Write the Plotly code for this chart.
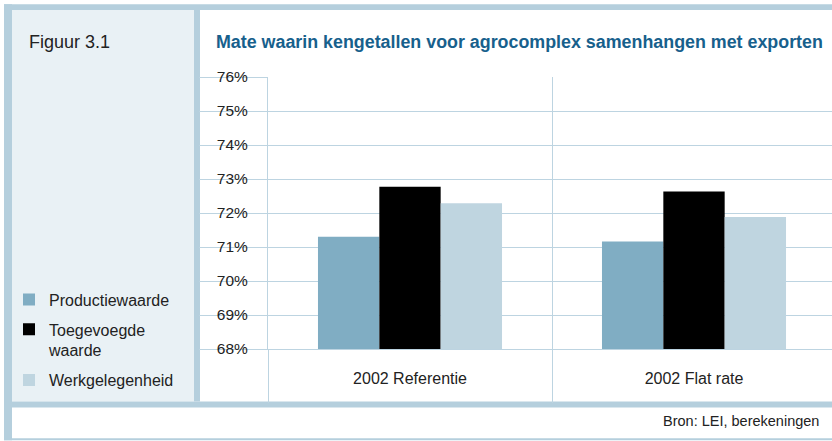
import plotly.graph_objects as go

# ---- data ----
categories = ["2002 Referentie", "2002 Flat rate"]
productiewaarde = [71.30, 71.16]
toegevoegde_waarde = [72.77, 72.63]
werkgelegenheid = [72.29, 71.88]
series_names = ["Productiewaarde", "Toegevoegde<br>waarde", "Werkgelegenheid"]
y_ticks = [68, 69, 70, 71, 72, 73, 74, 75, 76]

# ---- layout constants ----
W, H = 832, 441
L, R, T, B = 268, 0, 77, 91.5
PW, PH = W - L - R, H - T - B

BAND = "#B5CFDD"
PANEL = "#E9F1F5"
GRID = "#BDD4E1"
TEXT = "#222222"
TITLE = "#17608C"
COLORS = ["#80ADC3", "#000000", "#BFD5E0"]
FONT = "Liberation Sans, Arial, sans-serif"


def px(x):
    return (x - L) / PW


def py(y):
    return (H - B - y) / PH


fig = go.Figure()
for i, (name, vals, col) in enumerate(zip(series_names, [productiewaarde, toegevoegde_waarde, werkgelegenheid], COLORS)):
    fig.add_trace(go.Bar(x=categories, y=vals, name=name, legendgroup=f"g{i}",
                         marker=dict(color=col, line=dict(width=0))))


def rect(x0, y0, x1, y1, color):
    return dict(type="rect", xref="paper", yref="paper", x0=px(x0), x1=px(x1), y0=py(y1), y1=py(y0),
                fillcolor=color, line=dict(width=0), layer="below")


shapes = [
    rect(12, 10, 194, 402, PANEL),      # left panel
    rect(4, 4, 832, 10, BAND),          # top band
    rect(4, 4, 12, 441, BAND),          # left band
    rect(194, 10, 200, 402, BAND),      # vertical separator
    rect(4, 402, 832, 408, BAND),       # horizontal separator
    rect(4, 439, 832, 441, BAND),       # bottom line
]

fig.update_layout(
    width=W, height=H,
    margin=dict(l=L, r=R, t=T, b=B, pad=0),
    paper_bgcolor="white",
    plot_bgcolor="rgba(0,0,0,0)",
    font=dict(family=FONT, size=16, color=TEXT),
    barmode="group",
    bargap=0.352,
    bargroupgap=0,
    shapes=shapes,
    title=dict(
        text="<b>Mate waarin kengetallen voor agrocomplex samenhangen met exporten</b>",
        font=dict(family=FONT, size=17.85, color=TITLE),
        xref="container", yref="container",
        x=216 / W, xanchor="left", y=1 - 42 / H, yanchor="middle",
    ),
    legend=dict(
        x=px(9), xanchor="left", y=py(283), yanchor="top",
        bgcolor="rgba(0,0,0,0)", font=dict(size=16, color=TEXT),
        valign="top", tracegroupgap=6, traceorder="grouped",
    ),
    annotations=[
        dict(text="Figuur 3.1", xref="paper", yref="paper", x=px(26.5), y=py(42),
             xanchor="left", yanchor="middle", showarrow=False, font=dict(size=18, color=TEXT)),
        dict(text="Bron: LEI, berekeningen", xref="paper", yref="paper", x=px(821), y=py(422),
             xanchor="right", yanchor="middle", showarrow=False, font=dict(size=14.5, color=TEXT)),
    ],
)

fig.update_xaxes(
    type="category", range=[-0.5, -0.5 + PW / 284],
    tickson="boundaries", ticks="outside", ticklen=53, tickcolor=GRID, tickwidth=1,
    showgrid=True, gridcolor=GRID, gridwidth=1,
    showline=True, linecolor=GRID, linewidth=1,
    ticklabelstandoff=15,
    tickfont=dict(size=16, color=TEXT),
    fixedrange=True,
)
fig.update_yaxes(
    range=[68, 76], tickvals=y_ticks, ticktext=[f"{v}%" for v in y_ticks],
    ticks="outside", ticklen=68, tickcolor=GRID, tickwidth=1,
    showgrid=True, gridcolor=GRID, gridwidth=1,
    showline=True, linecolor=GRID, linewidth=1,
    zeroline=False,
    ticklabelstandoff=-52,
    tickfont=dict(size=15.5, color=TEXT),
    fixedrange=True,
)

fig.write_html("out.html", config={"displayModeBar": False},
               post_script="document.body.style.margin='0';")
